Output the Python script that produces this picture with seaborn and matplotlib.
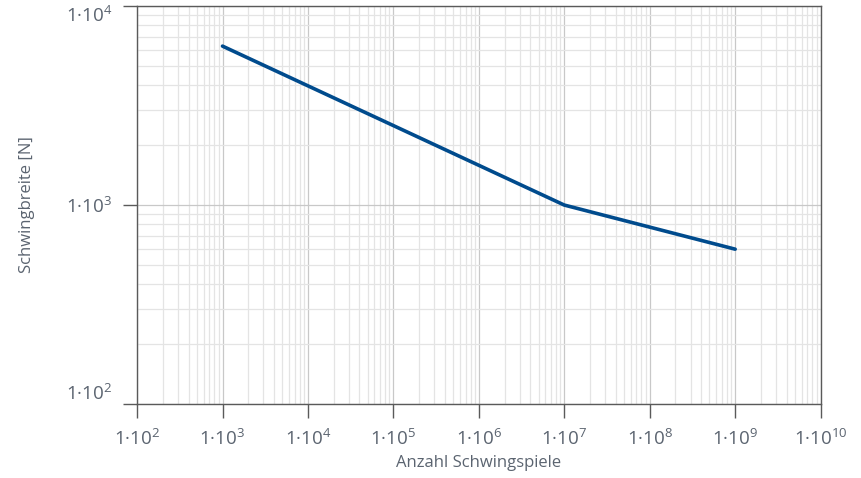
import numpy as np
import pandas as pd
import matplotlib
matplotlib.use("Agg")
import matplotlib.pyplot as plt
import seaborn as sns
from matplotlib.ticker import LogLocator, FuncFormatter, NullFormatter

# Wöhlerlinie: Schwingspiele und Schwingbreite
cycles = [1e3, 1e7, 1e9]
load_range = [6300, 1000, 600]
x_ticks = [1e2, 1e3, 1e4, 1e5, 1e6, 1e7, 1e8, 1e9, 1e10]
y_ticks = [1e2, 1e3, 1e4]

sns.set_theme(style="white")
plt.rcParams["font.family"] = ["Open Sans", "DejaVu Sans"]
plt.rcParams["mathtext.fontset"] = "custom"
plt.rcParams["mathtext.rm"] = "Open Sans"
plt.rcParams["mathtext.it"] = "Open Sans"

text_color = "#5b6470"
df = pd.DataFrame({"N": cycles, "S": load_range})

fig, ax = plt.subplots(figsize=(8.62, 4.78), dpi=100)
fig.subplots_adjust(left=0.159, right=0.952, top=0.987, bottom=0.155)

sns.lineplot(data=df, x="N", y="S", ax=ax, color="#004b8d", linewidth=2.6)

ax.set_xscale("log")
ax.set_yscale("log")
ax.set_xlim(1e2, 1e10)
ax.set_ylim(1e2, 1e4)

ax.set_xticks(x_ticks)
ax.set_yticks(y_ticks)
ax.xaxis.set_minor_locator(LogLocator(base=10, subs=np.arange(2, 10), numticks=100))
ax.yaxis.set_minor_locator(LogLocator(base=10, subs=np.arange(2, 10), numticks=100))

fmt = FuncFormatter(lambda v, _: "$1\u00b710^{%d}$" % round(np.log10(v)))
ax.xaxis.set_major_formatter(fmt)
ax.yaxis.set_major_formatter(fmt)
ax.xaxis.set_minor_formatter(NullFormatter())
ax.yaxis.set_minor_formatter(NullFormatter())

ax.grid(which="major", color="#c8c8c8", linewidth=0.9)
ax.grid(which="minor", color="#e4e4e4", linewidth=0.9)
ax.set_axisbelow(True)

for side in ["left", "bottom", "right", "top"]:
    ax.spines[side].set_color("#5a5a5a")
    ax.spines[side].set_linewidth(1.0)

ax.tick_params(which="major", direction="out", length=10, width=1.0,
               color="#5a5a5a", labelcolor=text_color, labelsize=13.5, pad=8,
               bottom=True, left=True)
ax.tick_params(which="minor", length=0)

# Randbeschriftungen nach innen schieben (wie im Original)
ylabels = ax.get_yticklabels()
ylabels[0].set_verticalalignment("bottom")
ylabels[-1].set_verticalalignment("top")

ax.set_xlabel("Anzahl Schwingspiele", fontsize=12, color=text_color, labelpad=4)
ax.set_ylabel("Schwingbreite [N]", fontsize=12, color=text_color, labelpad=22)

fig.savefig("out.png", dpi=100)
